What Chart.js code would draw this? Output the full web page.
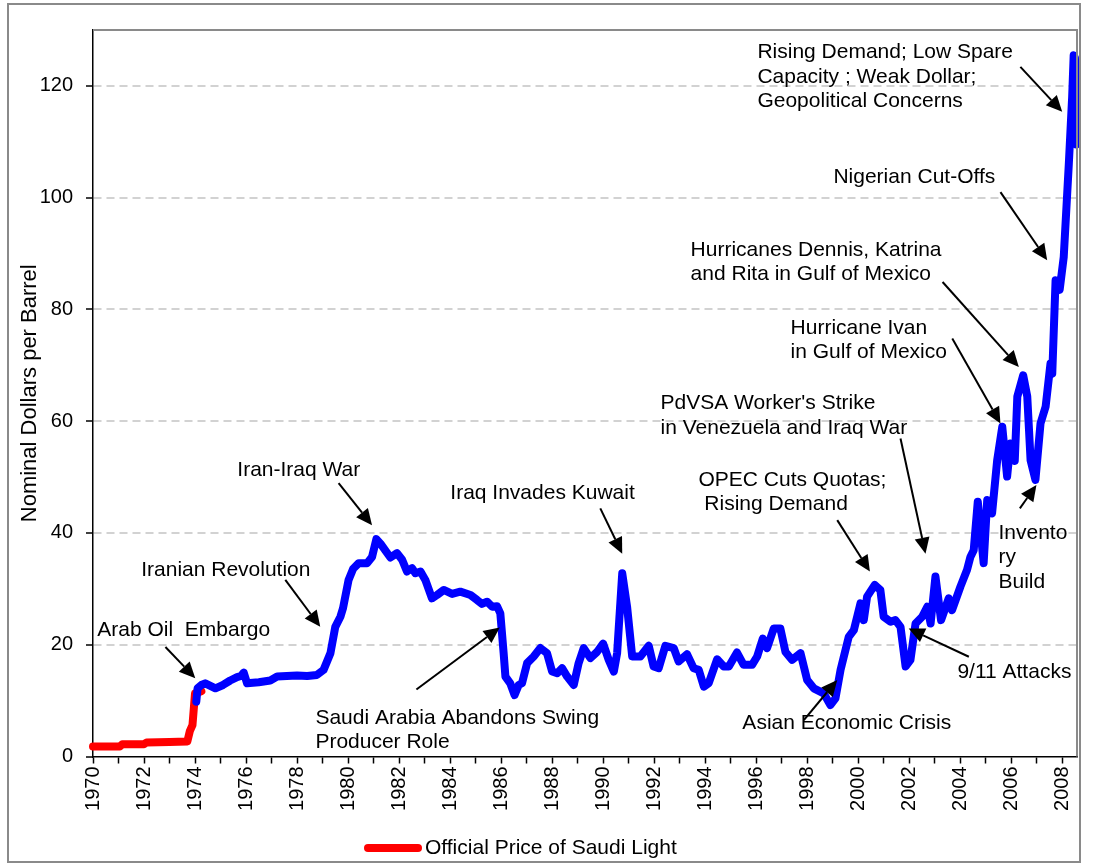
<!DOCTYPE html>
<html>
<head>
<meta charset="utf-8">
<script src="https://cdn.jsdelivr.net/npm/chart.js@4.4.1/dist/chart.umd.min.js"></script>
<style>
  html, body { margin: 0; padding: 0; background: #fff; }
  #wrap { width: 1103px; height: 865px; }
</style>
</head>
<body>
<div id="wrap"><canvas id="oil" width="1103" height="865"></canvas></div>
<script>
// Official Saudi Light price (red) and spot price (blue), decimal years
const saudiYears = [1970.0, 1971.05, 1971.15, 1972.0, 1972.1, 1973.0, 1973.7, 1973.8, 1973.9, 1974.0, 1974.25];
const saudiPrices = [1.8, 1.8, 2.2, 2.2, 2.5, 2.6, 2.7, 4.6, 5.6, 11.3, 11.7];

const spotYears = [
  1974.05, 1974.10, 1974.25, 1974.40, 1974.80, 1975.10, 1975.38, 1975.65, 1975.80, 1975.91,
  1976.04, 1976.50, 1976.95, 1977.22, 1977.60, 1978.00, 1978.40, 1978.78, 1979.04, 1979.31,
  1979.50, 1979.70, 1979.80, 1980.02, 1980.20, 1980.42, 1980.75, 1980.94, 1981.11, 1981.27,
  1981.66, 1981.92, 1982.12, 1982.31, 1982.51, 1982.64, 1982.84, 1983.03, 1983.29, 1983.49,
  1983.75, 1984.08, 1984.40, 1984.80, 1985.06, 1985.25, 1985.45, 1985.65, 1985.84, 1985.97,
  1986.10, 1986.17, 1986.36, 1986.53, 1986.69, 1986.82, 1987.02, 1987.28, 1987.54, 1987.80,
  1988.00, 1988.20, 1988.39, 1988.59, 1988.85, 1989.04, 1989.24, 1989.50, 1989.76, 1990.00,
  1990.22, 1990.42, 1990.55, 1990.75, 1990.94, 1991.14, 1991.46, 1991.79, 1991.98, 1992.18,
  1992.44, 1992.77, 1992.96, 1993.29, 1993.55, 1993.75, 1993.95, 1994.14, 1994.47, 1994.73,
  1994.93, 1995.25, 1995.51, 1995.84, 1996.04, 1996.26, 1996.43, 1996.69, 1996.95, 1997.15,
  1997.41, 1997.74, 1998.00, 1998.26, 1998.65, 1998.91, 1999.11, 1999.31, 1999.63, 1999.83,
  2000.09, 2000.22, 2000.35, 2000.65, 2000.87, 2001.00, 2001.27, 2001.46, 2001.66, 2001.86,
  2002.05, 2002.25, 2002.51, 2002.71, 2002.84, 2003.03, 2003.25, 2003.55, 2003.68, 2004.01,
  2004.27, 2004.40, 2004.53, 2004.69, 2004.92, 2005.06, 2005.25, 2005.45, 2005.65, 2005.84,
  2005.97, 2006.14, 2006.24, 2006.47, 2006.63, 2006.76, 2006.95, 2007.15, 2007.35, 2007.54,
  2007.61, 2007.74, 2007.90, 2008.06, 2008.26, 2008.39, 2008.45, 2008.50, 2008.55
];
const spotPrices = [
  9.8, 12.2, 12.8, 13.1, 12.2, 12.8, 13.6, 14.2, 14.4, 15.0,
  13.1, 13.3, 13.6, 14.3, 14.4, 14.5, 14.4, 14.6, 15.5, 18.5,
  23.2, 25.0, 26.5, 31.6, 33.6, 34.6, 34.6, 35.7, 38.9, 38.1,
  35.6, 36.4, 35.2, 33.1, 33.7, 32.8, 33.1, 31.6, 28.3, 28.9,
  29.8, 29.1, 29.5, 28.9, 28.0, 27.3, 27.7, 26.8, 26.9, 25.6,
  18.5, 14.3, 13.1, 11.0, 12.8, 13.1, 16.7, 17.9, 19.4, 18.5,
  15.2, 14.9, 15.8, 14.3, 12.8, 16.7, 19.4, 17.6, 18.7, 20.2,
  17.3, 15.2, 18.5, 32.8, 26.8, 17.9, 17.9, 19.8, 16.1, 15.8,
  19.8, 19.4, 17.0, 18.3, 15.8, 15.5, 12.5, 13.1, 17.4, 16.1,
  16.1, 18.6, 16.4, 16.4, 17.9, 21.1, 19.4, 22.9, 22.9, 18.7,
  17.3, 18.5, 13.7, 12.2, 11.3, 9.2, 10.4, 15.5, 21.4, 22.6,
  27.4, 24.4, 28.6, 30.7, 29.8, 25.0, 24.1, 24.4, 23.2, 16.1,
  17.3, 23.8, 25.0, 26.8, 23.8, 32.2, 24.4, 28.3, 26.2, 30.4,
  33.4, 35.7, 36.9, 45.6, 34.6, 45.9, 43.5, 53.0, 59.0, 50.1,
  56.0, 52.9, 64.4, 68.2, 64.4, 53.0, 49.5, 59.6, 62.6, 70.3,
  68.5, 85.2, 83.5, 89.4, 106.1, 118.0, 125.5, 125.0, 109.5
];

const yearLabels = ['1970', '1972', '1974', '1976', '1978', '1980', '1982', '1984', '1986', '1988',
  '1990', '1992', '1994', '1996', '1998', '2000', '2002', '2004', '2006', '2008'];

// event notes: text anchor and arrow, in (year, price)
const notes = [
  { lines: ['Arab Oil  Embargo'], at: [1970.17, 22.6], from: [1972.84, 19.6], to: [1974.01, 14.0] },
  { lines: ['Iranian Revolution'], at: [1971.89, 33.4], from: [1977.54, 31.6], to: [1978.91, 23.2] },
  { lines: ['Iran-Iraq War'], at: [1975.66, 51.25], from: [1979.63, 48.9], to: [1980.94, 41.4] },
  { lines: ['Iraq Invades Kuwait'], at: [1984.01, 47.1], from: [1989.89, 44.4], to: [1990.75, 36.3] },
  { lines: ['Saudi Arabia Abandons Swing', 'Producer Role'], at: [1978.72, 6.9], from: [1982.68, 12.0], to: [1985.95, 23.1] },
  { lines: ['Asian Economic Crisis'], at: [1995.46, 6.0], from: [1997.87, 6.5], to: [1999.18, 13.7] },
  { lines: ['OPEC Cuts Quotas;', ' Rising Demand'], at: [1993.74, 49.5], from: [1999.18, 42.3], to: [2000.46, 33.1] },
  { lines: ["PdVSA Worker's Strike", 'in Venezuela and Iraq War'], at: [1992.25, 63.2], from: [2001.66, 56.9], to: [2002.64, 36.3] },
  { lines: ['9/11 Attacks'], at: [2003.89, 15.1], from: [2004.34, 17.85], to: [2001.98, 22.9] },
  { lines: ['Hurricane Ivan', 'in Gulf of Mexico'], at: [1997.35, 76.65], from: [2003.69, 74.8], to: [2005.58, 59.6] },
  { lines: ['Hurricanes Dennis, Katrina', 'and Rita in Gulf of Mexico'], at: [1993.43, 90.6], from: [2003.31, 84.9], to: [2006.3, 69.7] },
  { lines: ['Nigerian Cut-Offs'], at: [1999.03, 103.7], from: [2005.58, 101.0], to: [2007.41, 88.8] },
  { lines: ['Rising Demand; Low Spare', 'Capacity ; Weak Dollar;', 'Geopolitical Concerns'], at: [1996.05, 126.0], from: [2006.36, 123.4], to: [2008.0, 115.35] },
  { lines: ['Invento', 'ry', 'Build'], at: [2005.5, 40.0], from: [2006.34, 44.4], to: [2006.99, 48.6] }
];

const FONT = '"Liberation Sans", Arial, sans-serif';

function toPoints(xs, ys) {
  return xs.map((v, i) => ({ x: v, y: ys[i] }));
}

function drawArrow(ctx, x1, y1, x2, y2) {
  const ang = Math.atan2(y2 - y1, x2 - x1);
  const len = 16, half = 7.5;
  const bx = x2 - len * Math.cos(ang), by = y2 - len * Math.sin(ang);
  ctx.beginPath();
  ctx.moveTo(x1, y1);
  ctx.lineTo(bx, by);
  ctx.stroke();
  ctx.beginPath();
  ctx.moveTo(x2, y2);
  ctx.lineTo(bx + half * Math.sin(ang), by - half * Math.cos(ang));
  ctx.lineTo(bx - half * Math.sin(ang), by + half * Math.cos(ang));
  ctx.closePath();
  ctx.fill();
}

const notesPlugin = {
  id: 'notes',
  afterDatasetsDraw(chart) {
    const { ctx, scales: { x, y }, chartArea: a } = chart;
    ctx.save();
    // top and right frame of plot
    ctx.strokeStyle = '#8a8a8a';
    ctx.lineWidth = 2;
    ctx.beginPath();
    ctx.moveTo(a.left, a.top);
    ctx.lineTo(a.right, a.top);
    ctx.lineTo(a.right, a.bottom);
    ctx.stroke();

    ctx.font = '21px ' + FONT;
    ctx.fillStyle = '#000';
    ctx.strokeStyle = '#000';
    ctx.lineWidth = 2;
    ctx.textBaseline = 'middle';
    ctx.textAlign = 'left';
    notes.forEach(n => {
      const tx = x.getPixelForValue(n.at[0]);
      const ty = y.getPixelForValue(n.at[1]);
      n.lines.forEach((s, i) => ctx.fillText(s, tx, ty + i * 24.5));
      drawArrow(ctx,
        x.getPixelForValue(n.from[0]), y.getPixelForValue(n.from[1]),
        x.getPixelForValue(n.to[0]), y.getPixelForValue(n.to[1]));
    });
    ctx.restore();
  },
  afterDraw(chart) {
    const { ctx } = chart;
    ctx.save();
    // outer chart frame
    ctx.strokeStyle = '#8a8a8a';
    ctx.lineWidth = 2;
    ctx.strokeRect(8, 4, 1072, 858);
    // legend (official price only)
    const ds = chart.data.datasets[1];
    ctx.strokeStyle = ds.borderColor;
    ctx.lineWidth = 8;
    ctx.lineCap = 'round';
    ctx.beginPath();
    ctx.moveTo(368, 848);
    ctx.lineTo(418, 848);
    ctx.stroke();
    ctx.fillStyle = '#000';
    ctx.font = '21px ' + FONT;
    ctx.textBaseline = 'middle';
    ctx.fillText(ds.label, 425, 848);
    ctx.restore();
  }
};

new Chart(document.getElementById('oil'), {
  type: 'line',
  data: {
    datasets: [
      {
        label: 'Spot Price',
        data: toPoints(spotYears, spotPrices),
        borderColor: '#0000ff',
        borderWidth: 8,
        pointRadius: 0,
        tension: 0,
        borderJoinStyle: 'round',
        borderCapStyle: 'round',
        clip: 8,
        order: 0
      },
      {
        label: 'Official Price of Saudi Light',
        data: toPoints(saudiYears, saudiPrices),
        borderColor: '#ff0000',
        borderWidth: 8,
        pointRadius: 0,
        tension: 0,
        borderJoinStyle: 'round',
        borderCapStyle: 'round',
        clip: 8,
        order: 1
      }
    ]
  },
  options: {
    responsive: false,
    animation: false,
    events: [],
    layout: { padding: { left: 0, top: 30, right: 26, bottom: 0 } },
    plugins: {
      legend: { display: false },
      tooltip: { enabled: false }
    },
    scales: {
      x: {
        type: 'linear',
        min: 1970,
        max: 2008.58,
        afterFit(scale) { scale.height = 108.5; },
        afterBuildTicks(scale) {
          scale.ticks = scale.ticks.filter(t => Number.isInteger(t.value));
        },
        border: { color: '#000', width: 1.5 },
        grid: { drawOnChartArea: false, drawTicks: true, tickLength: 7, tickColor: '#000', tickWidth: 1.5 },
        ticks: {
          stepSize: 1,
          includeBounds: false,
          autoSkip: false,
          minRotation: 90,
          maxRotation: 90,
          padding: 3,
          color: '#000',
          font: { family: FONT, size: 20 },
          callback: v => yearLabels.includes(String(v)) ? String(v) : ''
        }
      },
      y: {
        min: 0,
        max: 130,
        afterFit(scale) { scale.width = 93; },
        border: { color: '#000', width: 1.5, dash: [8, 5] },
        grid: {
          color: ctx => ctx.tick && ctx.tick.value === 0 ? 'rgba(0,0,0,0)' : '#d2d2d2',
          lineWidth: 2,
          drawTicks: true,
          tickLength: 7,
          tickColor: '#000',
          tickWidth: 1.5,
          tickBorderDash: []
        },
        ticks: {
          stepSize: 20,
          includeBounds: false,
          padding: 13,
          color: '#000',
          font: { family: FONT, size: 20 }
        },
        title: {
          display: true,
          text: 'Nominal Dollars per Barrel',
          color: '#000',
          font: { family: FONT, size: 22 },
          padding: { top: 17, bottom: 0 }
        }
      }
    }
  },
  plugins: [notesPlugin]
});
</script>
</body>
</html>
